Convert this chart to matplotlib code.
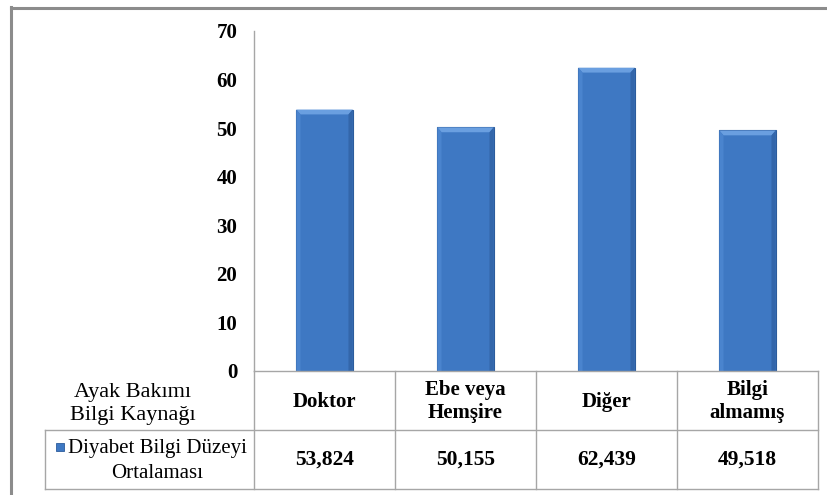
import matplotlib
matplotlib.use("Agg")
import matplotlib.pyplot as plt
from matplotlib.patches import Rectangle, Polygon
from matplotlib.lines import Line2D

# Data
categories = ["Doktor", "Ebe veya\nHemşire", "Diğer", "Bilgi\nalmamış"]
values = [53.824, 50.155, 62.439, 49.518]
value_labels = ["53,824", "50,155", "62,439", "49,518"]
yticks = [0, 10, 20, 30, 40, 50, 60, 70]
row_header = "Ayak Bakımı\nBilgi Kaynağı"
series_name = "Diyabet Bilgi Düzeyi\nOrtalaması"

W, H = 827, 495
fig = plt.figure(figsize=(W / 100, H / 100), dpi=100)
fig.patch.set_facecolor("white")

serif = ["Liberation Serif", "DejaVu Serif"]
bar_color = "#3E78C3"
edge_color = "#2C5C9C"
grid_color = "#A6A6A6"


def fx(px):
    return px / W


def fy(py):
    return 1 - py / H


# outer chart frame
fig.add_artist(Line2D([fx(11), fx(11)], [fy(7), fy(H + 5)], color="#8C8C8C", lw=2.2))
fig.add_artist(Line2D([fx(11), fx(W + 5)], [fy(7.5), fy(7.5)], color="#8C8C8C", lw=2.2))

# plot area
x0, x1 = 254, 818
y_top, y_zero = 31, 371
ax = fig.add_axes([fx(x0), fy(y_zero), fx(x1 - x0), (y_zero - y_top) / H])
ax.set_xlim(-0.5, len(categories) - 0.5)
ax.set_ylim(0, 70)
for s in ["top", "right", "bottom"]:
    ax.spines[s].set_visible(False)
ax.spines["left"].set_color(grid_color)
ax.spines["left"].set_linewidth(1)
ax.set_xticks([])
ax.set_yticks(yticks)
ax.tick_params(axis="y", length=0, pad=12)
for lbl in ax.get_yticklabels():
    lbl.set_fontfamily(serif)
    lbl.set_fontweight("bold")
    lbl.set_fontsize(15)

bw = 0.4
xs = list(range(len(categories)))
ax.bar(xs, values, width=bw, color=bar_color, edgecolor=edge_color, linewidth=0.8, zorder=2)

# bevel highlights on each bar
bev_x = 0.03
bev_y = 1.0
for x, v in zip(xs, values):
    l, r = x - bw / 2, x + bw / 2
    ax.add_patch(Polygon([[l, v], [r, v], [r - bev_x, v - bev_y], [l + bev_x, v - bev_y]],
                         closed=True, facecolor="#6A9FE0", edgecolor="none", zorder=3))
    ax.add_patch(Polygon([[l, v], [l + bev_x, v - bev_y], [l + bev_x, 0], [l, 0]],
                         closed=True, facecolor="#4A84CE", edgecolor="none", zorder=3))
    ax.add_patch(Polygon([[r, v], [r - bev_x, v - bev_y], [r - bev_x, 0], [r, 0]],
                         closed=True, facecolor="#3366AA", edgecolor="none", zorder=3))

# data table below the plot area
tab = fig.add_axes([fx(x0), fy(489), fx(x1 - x0), (489 - y_zero) / H])
tab.set_xlim(-0.5, len(categories) - 0.5)
tab.set_ylim(2, 0)
tab.axis("off")

col_w = (x1 - x0) / len(categories)
left_edge = -0.5 - (x0 - 45) / col_w
lk = dict(color=grid_color, lw=1, clip_on=False)
tab.plot([-0.5, len(categories) - 0.5], [0, 0], **lk)
tab.plot([left_edge, len(categories) - 0.5], [1, 1], **lk)
tab.plot([left_edge, len(categories) - 0.5], [2, 2], **lk)
for i in range(len(categories) + 1):
    tab.plot([i - 0.5, i - 0.5], [0, 2], **lk)
tab.plot([left_edge, left_edge], [1, 2], **lk)

for x, c, vl in zip(xs, categories, value_labels):
    tab.text(x, 0.52, c, ha="center", va="center", fontfamily=serif, fontweight="bold",
             fontsize=15, linespacing=1.2, multialignment="center")
    tab.text(x, 1.5, vl, ha="center", va="center", fontfamily=serif, fontweight="bold",
             fontsize=15.5)

fig.text(fx(133), fy(404), row_header, ha="center", va="center", fontfamily=serif,
         fontsize=16, linespacing=1.35, multialignment="center")
fig.text(fx(157), fy(461), series_name, ha="center", va="center", fontfamily=serif,
         fontsize=15, linespacing=1.45, multialignment="center")
# legend key
fig.add_artist(Rectangle((fx(56), fy(451)), fx(8), 8 / H, facecolor=bar_color,
                         edgecolor=edge_color, lw=0.6))

fig.savefig("out.png", dpi=100, facecolor="white")
